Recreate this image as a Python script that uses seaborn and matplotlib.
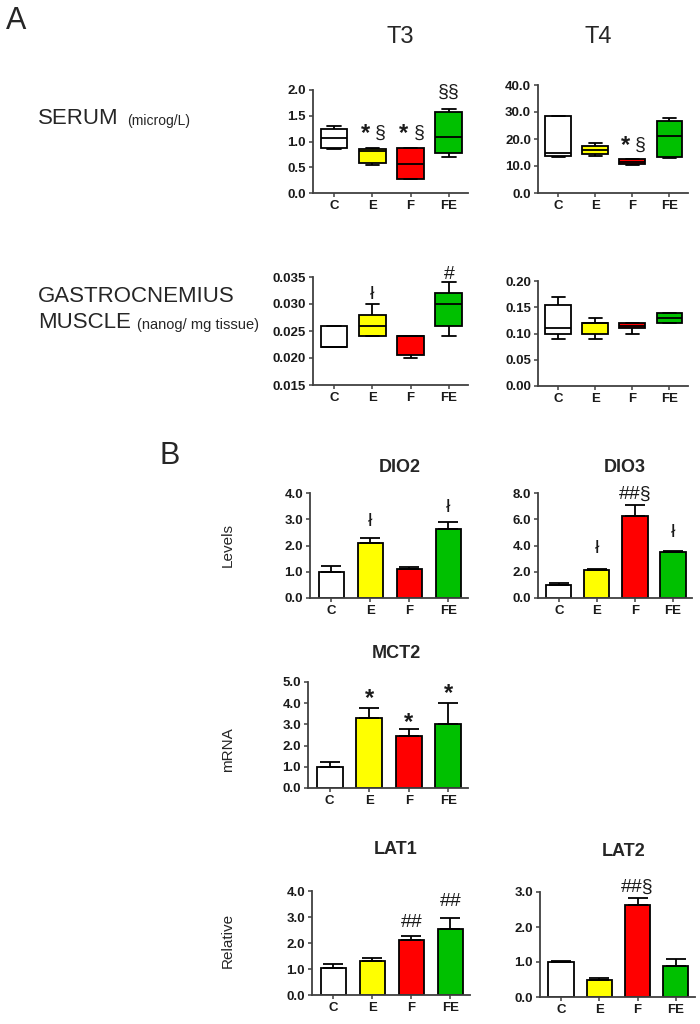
import numpy as np
import pandas as pd
import matplotlib
matplotlib.use("Agg")
import matplotlib.pyplot as plt
from matplotlib.ticker import FormatStrFormatter, MultipleLocator
import seaborn as sns

# groups and colours
groups = ['C', 'E', 'F', 'FE']
colors = ['#FFFFFF', '#FFFF00', '#FF0000', '#00C000']

# box plots: five-number summaries (min, Q1, median, Q3, max)
serum_t3 = {'C': [0.85, 0.87, 1.06, 1.25, 1.30],
            'E': [0.55, 0.58, 0.82, 0.86, 0.87],
            'F': [0.27, 0.27, 0.57, 0.87, 0.87],
            'FE': [0.70, 0.77, 1.09, 1.57, 1.63]}
serum_t4 = {'C': [13.5, 13.8, 15.0, 28.5, 28.7],
            'E': [13.8, 14.5, 16.0, 17.3, 18.5],
            'F': [10.2, 10.8, 11.6, 12.7, 12.7],
            'FE': [12.8, 13.5, 21.2, 26.6, 27.8]}
muscle_t3 = {'C': [0.022, 0.022, 0.022, 0.026, 0.026],
             'E': [0.024, 0.024, 0.026, 0.028, 0.030],
             'F': [0.020, 0.0205, 0.024, 0.024, 0.024],
             'FE': [0.024, 0.026, 0.030, 0.032, 0.034]}
muscle_t4 = {'C': [0.09, 0.10, 0.11, 0.155, 0.17],
             'E': [0.09, 0.10, 0.12, 0.12, 0.13],
             'F': [0.10, 0.11, 0.115, 0.12, 0.12],
             'FE': [0.12, 0.12, 0.13, 0.14, 0.14]}

# bar plots: mean and SEM
dio2_mean = [1.0, 2.08, 1.12, 2.62]
dio2_sem = [0.22, 0.20, 0.05, 0.28]
dio3_mean = [1.0, 2.1, 6.25, 3.5]
dio3_sem = [0.12, 0.12, 0.80, 0.05]
mct2_mean = [1.0, 3.28, 2.45, 3.02]
mct2_sem = [0.22, 0.50, 0.35, 1.00]
lat1_mean = [1.05, 1.30, 2.12, 2.55]
lat1_sem = [0.15, 0.12, 0.15, 0.42]
lat2_mean = [1.0, 0.50, 2.63, 0.88]
lat2_sem = [0.03, 0.03, 0.20, 0.20]

# significance marks (text, height)
serum_t3_sig = [('', 0), ('*§', 1.16), ('*§', 1.16), ('§§', 1.96)]
serum_t4_sig = [('', 0), ('', 0), ('*§', 17.5), ('', 0)]
muscle_t3_sig = [('', 0), ('ł', 0.0318), ('', 0), ('#', 0.0355)]
muscle_t4_sig = [('', 0), ('', 0), ('', 0), ('', 0)]
dio2_sig = [('', 0), ('ł', 2.9), ('', 0), ('ł', 3.45)]
dio3_sig = [('', 0), ('ł', 3.8), ('##§', 7.9), ('ł', 5.0)]
mct2_sig = [('', 0), ('*', 4.2), ('*', 3.1), ('*', 4.45)]
lat1_sig = [('', 0), ('', 0), ('##', 2.8), ('##', 3.58)]
lat2_sig = [('', 0), ('', 0), ('##§', 3.14), ('', 0)]

sns.set_style("ticks")
plt.rcParams['font.family'] = ['Liberation Sans', 'DejaVu Sans']

W, H = 700, 1024
fig = plt.figure(figsize=(7, 10.24), dpi=100)


def make_ax(x0, x1, y0, y1):
    # pixel box -> figure fraction
    return fig.add_axes([x0 / W, 1 - y1 / H, (x1 - x0) / W, (y1 - y0) / H])


def ftext(x, y, s, **kw):
    fig.text(x / W, 1 - y / H, s, **kw)


def style(ax, ylim, step, fmt):
    ax.set_xlim(-0.55, 3.5)
    ax.set_ylim(*ylim)
    ax.yaxis.set_major_locator(MultipleLocator(step))
    ax.yaxis.set_major_formatter(FormatStrFormatter(fmt))
    ax.set_xlabel('')
    ax.set_ylabel('')
    for s in ['top', 'right']:
        ax.spines[s].set_visible(False)
    for s in ['left', 'bottom']:
        ax.spines[s].set_linewidth(1.3)
        ax.spines[s].set_color('#404040')
    ax.tick_params(direction='out', length=3, width=1.1, colors='#404040',
                   labelsize=9.5, labelcolor='#1a1a1a', pad=2)
    for lab in ax.get_xticklabels() + ax.get_yticklabels():
        lab.set_fontweight('bold')


def add_sig(ax, sig, size=14):
    for i, (txt, yv) in enumerate(sig):
        if not txt:
            continue
        if txt == '*§':
            # bold star and plain section sign side by side
            ax.annotate('*', (i, yv), xytext=(-5, 0), textcoords='offset points',
                        ha='center', va='center', fontsize=size + 3,
                        fontweight='bold', color='#1a1a1a', annotation_clip=False)
            ax.annotate('§', (i, yv), xytext=(6, 0), textcoords='offset points',
                        ha='center', va='center', fontsize=size,
                        color='#1a1a1a', annotation_clip=False)
        elif txt == '*':
            ax.text(i, yv, txt, ha='center', va='center', fontsize=size + 3,
                    fontweight='bold', color='#1a1a1a', clip_on=False)
        else:
            ax.text(i, yv, txt, ha='center', va='center', fontsize=size,
                    color='#1a1a1a', clip_on=False)


def box_panel(box, data, ylim, step, fmt, sig):
    ax = make_ax(*box)
    df = pd.DataFrame([(g, v) for g in groups for v in data[g]],
                      columns=['group', 'value'])
    sns.boxplot(data=df, x='group', y='value', hue='group', order=groups,
                palette=colors, saturation=1, linecolor='black', linewidth=1.3,
                width=0.7, whis=(0, 100), showfliers=False, legend=False, ax=ax)
    style(ax, ylim, step, fmt)
    add_sig(ax, sig)
    return ax


def bar_panel(box, mean, sem, ylim, step, fmt, sig, title, title_xy):
    ax = make_ax(*box)
    sns.barplot(x=groups, y=mean, hue=groups, palette=colors, saturation=1,
                legend=False, edgecolor='black', linewidth=1.3, width=0.66,
                errorbar=None, ax=ax)
    for p, e in zip(ax.patches, sem):
        xc = p.get_x() + p.get_width() / 2
        ax.errorbar(xc, p.get_height(), yerr=[[0], [e]], fmt='none',
                    ecolor='black', elinewidth=1.3, capsize=7, capthick=1.3)
    style(ax, ylim, step, fmt)
    add_sig(ax, sig)
    ftext(title_xy[0], title_xy[1], title, fontsize=13, fontweight='bold',
          ha='center', va='center')
    return ax


# panel A
box_panel((313, 468, 90, 193), serum_t3, (0, 2.0), 0.5, '%.1f', serum_t3_sig)
box_panel((538, 688, 85, 193), serum_t4, (0, 40), 10, '%.1f', serum_t4_sig)
box_panel((313, 468, 277, 385), muscle_t3, (0.015, 0.035), 0.005, '%.3f', muscle_t3_sig)
box_panel((538, 688, 281, 386), muscle_t4, (0, 0.20), 0.05, '%.2f', muscle_t4_sig)

# panel B
bar_panel((310, 468, 493, 598), dio2_mean, dio2_sem, (0, 4), 1, '%.1f', dio2_sig,
          'DIO2', (400, 468))
bar_panel((538, 692, 493, 598), dio3_mean, dio3_sem, (0, 8), 2, '%.1f', dio3_sig,
          'DIO3', (625, 468))
bar_panel((308, 468, 682, 788), mct2_mean, mct2_sem, (0, 5), 1, '%.1f', mct2_sig,
          'MCT2', (396, 653))
bar_panel((312, 470, 891, 995), lat1_mean, lat1_sem, (0, 4), 1, '%.1f', lat1_sig,
          'LAT1', (396, 849))
bar_panel((540, 695, 892, 997), lat2_mean, lat2_sem, (0, 3), 1, '%.1f', lat2_sig,
          'LAT2', (624, 851))

# figure texts
ftext(6, 21, 'A', fontsize=22, va='center')
ftext(160, 456, 'B', fontsize=22, va='center')
ftext(400, 37, 'T3', fontsize=17, ha='center', va='center')
ftext(598, 37, 'T4', fontsize=17, ha='center', va='center')
ftext(38, 118, 'SERUM', fontsize=16, va='center')
ftext(127, 121, '(microg/L)', fontsize=10, va='center')
ftext(38, 297, 'GASTROCNEMIUS', fontsize=16, va='center')
ftext(38, 322, 'MUSCLE', fontsize=16, va='center')
ftext(137, 325, '(nanog/ mg tissue)', fontsize=10.5, va='center')
ftext(228, 545, 'Levels', fontsize=11, rotation=90, ha='center', va='center')
ftext(228, 750, 'mRNA', fontsize=11, rotation=90, ha='center', va='center')
ftext(228, 940, 'Relative', fontsize=11, rotation=90, ha='center', va='center')

fig.savefig('out.png', dpi=100)
